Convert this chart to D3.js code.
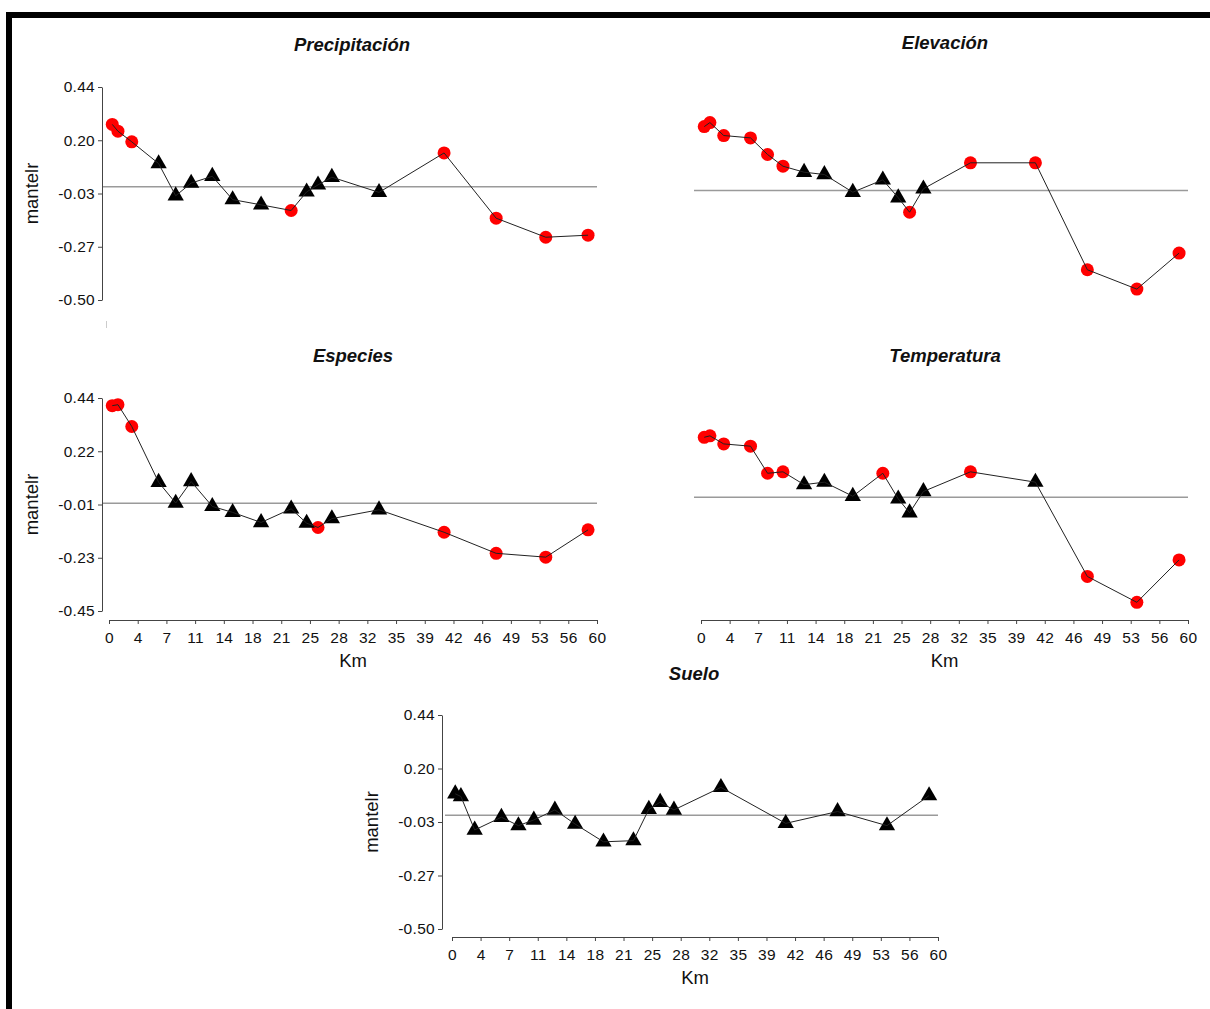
<!DOCTYPE html>
<html>
<head>
<meta charset="utf-8">
<script src="https://cdn.jsdelivr.net/npm/d3@7"></script>
<style>
  body { margin: 0; background: #fff; }
  svg { display: block; }
</style>
</head>
<body>
<script>
// distance classes (km), shared by all panels
const distKm = [0.4, 1.1, 2.8, 6.1, 8.2, 10.1, 12.7, 15.2, 18.7, 22.4, 24.3, 25.7, 27.4, 33.2, 41.2, 47.6, 53.7, 58.9];

// mantel r per panel, and whether the class is significant (red circle) or not (black triangle)
const precipR = [0.275, 0.245, 0.198, 0.102, -0.040, 0.016, 0.046, -0.057, -0.080, -0.105, -0.023, 0.008, 0.042, -0.025, 0.149, -0.139, -0.223, -0.214];
const precipSig = [1, 1, 1, 0, 0, 0, 0, 0, 0, 1, 0, 0, 0, 0, 1, 1, 1, 1];

const elevR = [0.300, 0.319, 0.258, 0.247, 0.169, 0.114, 0.086, 0.075, -0.008, 0.050, -0.034, -0.102, 0.008, 0.130, 0.130, -0.372, -0.463, -0.294];
const elevSig = [1, 1, 1, 1, 1, 1, 0, 0, 0, 0, 0, 1, 0, 1, 1, 1, 1, 1];

const especiesR = [0.408, 0.412, 0.321, 0.088, 0.001, 0.091, -0.013, -0.038, -0.080, -0.023, -0.083, -0.101, -0.064, -0.027, -0.121, -0.209, -0.225, -0.111];
const especiesSig = [1, 1, 1, 0, 0, 0, 0, 0, 0, 0, 0, 1, 0, 0, 1, 1, 1, 1];

const tempR = [0.290, 0.297, 0.258, 0.247, 0.116, 0.123, 0.061, 0.073, 0.005, 0.116, -0.008, -0.075, 0.028, 0.123, 0.073, -0.383, -0.508, -0.303];
const tempSig = [1, 1, 1, 1, 1, 1, 0, 0, 0, 1, 0, 0, 0, 1, 0, 1, 1, 1];

const sueloR = [0.094, 0.082, -0.065, -0.009, -0.046, -0.021, 0.023, -0.039, -0.117, -0.112, 0.026, 0.057, 0.023, 0.122, -0.036, 0.016, -0.046, 0.086];
const sueloSig = [0, 0, 0, 0, 0, 0, 0, 0, 0, 0, 0, 0, 0, 0, 0, 0, 0, 0];

// tick labels (top to bottom for y)
const xTickLabels = ['0', '4', '7', '11', '14', '18', '21', '25', '28', '32', '35', '39', '42', '46', '49', '53', '56', '60'];
const yLabelsA = ['0.44', '0.20', '-0.03', '-0.27', '-0.50'];
const yLabelsB = ['0.44', '0.22', '-0.01', '-0.23', '-0.45'];

const FONT = '"Liberation Sans", Arial, sans-serif';

const svg = d3.select('body').append('svg')
  .attr('width', 1210)
  .attr('height', 1009);

svg.append('rect').attr('width', 1210).attr('height', 1009).attr('fill', '#fff');
// thick frame, top and left
svg.append('rect').attr('x', 6).attr('y', 12).attr('width', 1204).attr('height', 6).attr('fill', '#000');
svg.append('rect').attr('x', 6).attr('y', 12).attr('width', 6).attr('height', 997).attr('fill', '#000');

const panels = [
  { title: 'Precipitación', r: precipR, sig: precipSig, left: 109, right: 597, top: 87, bottom: 300,
    yDomain: [-0.50, 0.44], yLabels: yLabelsA, yAxisX: 102, xAxisY: null, titleX: 352, titleY: 51 },
  { title: 'Elevación', r: elevR, sig: elevSig, left: 701, right: 1188, top: 84, bottom: 297,
    yDomain: [-0.50, 0.50], yLabels: null, yAxisX: null, xAxisY: null, titleX: 945, titleY: 49 },
  { title: 'Especies', r: especiesR, sig: especiesSig, left: 109, right: 597, top: 398, bottom: 611,
    yDomain: [-0.45, 0.44], yLabels: yLabelsB, yAxisX: 102, xAxisY: 620, titleX: 353, titleY: 362 },
  { title: 'Temperatura', r: tempR, sig: tempSig, left: 701, right: 1188, top: 398, bottom: 611,
    yDomain: [-0.55, 0.48], yLabels: null, yAxisX: null, xAxisY: 620, titleX: 945, titleY: 362 },
  { title: 'Suelo', r: sueloR, sig: sueloSig, left: 452, right: 938, top: 715, bottom: 929,
    yDomain: [-0.50, 0.44], yLabels: yLabelsA, yAxisX: 442, xAxisY: 937, titleX: 694, titleY: 680 }
];

function styleAxis(g) {
  g.attr('color', '#444');
  g.select('.domain').attr('stroke-width', 1);
  g.selectAll('.tick line').attr('stroke-width', 1);
  g.selectAll('text')
    .attr('fill', '#111')
    .style('font-family', FONT)
    .style('font-size', '15.5px')
    .style('letter-spacing', '0.3px');
}

function drawPanel(p) {
  const x = d3.scaleLinear().domain([0, 60]).range([p.left, p.right]);
  const y = d3.scaleLinear().domain(p.yDomain).range([p.bottom, p.top]);
  const g = svg.append('g');

  g.append('text')
    .attr('x', p.titleX)
    .attr('y', p.titleY)
    .attr('text-anchor', 'middle')
    .style('font-family', FONT)
    .style('font-size', '18.5px')
    .style('font-weight', 'bold')
    .style('font-style', 'italic')
    .attr('fill', '#111')
    .text(p.title);

  // reference line at r = 0
  g.append('line')
    .attr('x1', p.left - 7).attr('x2', p.right)
    .attr('y1', y(0)).attr('y2', y(0))
    .attr('stroke', '#9a9a9a')
    .attr('stroke-width', 1.5);

  if (p.yLabels) {
    const n = p.yLabels.length;
    const vals = d3.range(n).map(i => p.yDomain[1] - i * (p.yDomain[1] - p.yDomain[0]) / (n - 1));
    const yAxis = d3.axisLeft(y)
      .tickValues(vals)
      .tickSize(4)
      .tickSizeOuter(0)
      .tickPadding(3)
      .tickFormat((d, i) => p.yLabels[i]);
    const ga = g.append('g').attr('transform', `translate(${p.yAxisX},0)`).call(yAxis);
    styleAxis(ga);

    g.append('text')
      .attr('transform', `translate(${p.yAxisX - 64},${(p.top + p.bottom) / 2}) rotate(-90)`)
      .attr('text-anchor', 'middle')
      .style('font-family', FONT)
      .style('font-size', '18.5px')
      .attr('fill', '#111')
      .text('mantelr');
  }

  if (p.xAxisY !== null) {
    const xAxis = d3.axisBottom(x)
      .tickValues(d3.range(xTickLabels.length).map(i => i * 60 / (xTickLabels.length - 1)))
      .tickSize(4)
      .tickSizeOuter(0)
      .tickPadding(8)
      .tickFormat((d, i) => xTickLabels[i]);
    const gx = g.append('g').attr('transform', `translate(0,${p.xAxisY})`).call(xAxis);
    styleAxis(gx);

    g.append('text')
      .attr('x', x(30))
      .attr('y', p.xAxisY + 47)
      .attr('text-anchor', 'middle')
      .style('font-family', FONT)
      .style('font-size', '18.5px')
      .attr('fill', '#111')
      .text('Km');
  }

  const pts = distKm.map((d, i) => ({ km: d, r: p.r[i], sig: p.sig[i] }));

  g.selectAll('circle.sig')
    .data(pts.filter(d => d.sig))
    .enter().append('circle')
    .attr('class', 'sig')
    .attr('cx', d => x(d.km))
    .attr('cy', d => y(d.r))
    .attr('r', 6.5)
    .attr('fill', '#ff0000');

  g.selectAll('path.ns')
    .data(pts.filter(d => !d.sig))
    .enter().append('path')
    .attr('class', 'ns')
    .attr('d', d3.symbol(d3.symbolTriangle, 115))
    .attr('transform', d => `translate(${x(d.km)},${y(d.r)})`)
    .attr('fill', '#000');

  const line = d3.line().x(d => x(d.km)).y(d => y(d.r));
  g.append('path')
    .datum(pts)
    .attr('d', line)
    .attr('fill', 'none')
    .attr('stroke', '#222')
    .attr('stroke-width', 1);
}

panels.forEach(drawPanel);

// small leftover tick under the first panel
svg.append('line')
  .attr('x1', 106.5).attr('x2', 106.5)
  .attr('y1', 321).attr('y2', 328)
  .attr('stroke', '#ccc')
  .attr('stroke-width', 1);
</script>
</body>
</html>
